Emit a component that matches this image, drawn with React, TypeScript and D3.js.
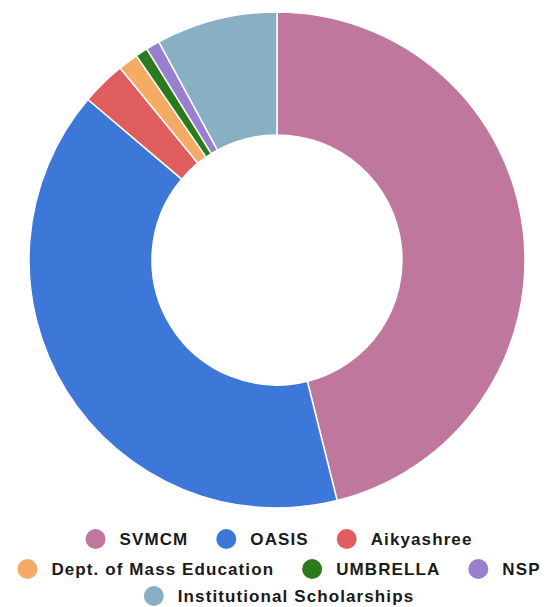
import * as d3 from "d3";
import { useMemo } from "react";

const WIDTH = 560;
const HEIGHT = 607;

const categories = [
  "SVMCM",
  "OASIS",
  "Aikyashree",
  "Dept. of Mass Education",
  "UMBRELLA",
  "NSP",
  "Institutional Scholarships",
];
const shares = [46.1, 40.1, 2.9, 1.3, 0.8, 0.9, 7.9];
const colors = [
  "#c0779e",
  "#3d78d8",
  "#e05d5d",
  "#f3ab66",
  "#2b7a1b",
  "#9a7fd1",
  "#89afc4",
];
// which legend row each category sits on
const legendRows = [
  [0, 1, 2],
  [3, 4, 5],
  [6],
];

const CENTER = { x: 277, y: 260 };
const OUTER = 248;
const INNER = 125;

const FONT_SIZE = 17;
const LETTER_SPACING = 1.1;
const FONT = `bold ${FONT_SIZE}px "Liberation Sans", Arial, sans-serif`;
const DOT_R = 10;
const TEXT_OFFSET = 24;
const ITEM_GAP = 28;
const LEGEND_CX = 279;
const ROW_Y = [539, 569, 596];

const measure = (() => {
  let ctx: CanvasRenderingContext2D | null = null;
  return (s: string) => {
    if (!ctx) ctx = document.createElement("canvas").getContext("2d");
    if (!ctx) return s.length * FONT_SIZE * 0.6;
    ctx.font = FONT;
    return ctx.measureText(s).width + s.length * LETTER_SPACING;
  };
})();

export default function App() {
  const arcs = useMemo(
    () =>
      d3
        .pie<number>()
        .sort(null)
        .value((d) => d)(shares),
    []
  );
  const arcGen = d3
    .arc<d3.PieArcDatum<number>>()
    .innerRadius(INNER)
    .outerRadius(OUTER);

  const legend = legendRows.flatMap((row, r) => {
    const widths = row.map((i) => DOT_R * 2 + (TEXT_OFFSET - DOT_R) + measure(categories[i]));
    const total = d3.sum(widths) + ITEM_GAP * (row.length - 1);
    let x = LEGEND_CX - total / 2;
    return row.map((i, k) => {
      const item = { i, x, y: ROW_Y[r] };
      x += widths[k] + ITEM_GAP;
      return item;
    });
  });

  return (
    <svg
      width={WIDTH}
      height={HEIGHT}
      style={{ position: "absolute", left: 0, top: 0, background: "#fff" }}
    >
      <g transform={`translate(${CENTER.x}, ${CENTER.y})`}>
        {arcs.map((a, i) => (
          <path
            key={categories[i]}
            d={arcGen(a) ?? undefined}
            fill={colors[i]}
            stroke="#fff"
            strokeWidth={1.5}
          />
        ))}
      </g>

      {legend.map(({ i, x, y }) => (
        <g key={categories[i]} transform={`translate(${x}, ${y})`}>
          <circle cx={DOT_R} cy={0} r={DOT_R} fill={colors[i]} />
          <text
            x={TEXT_OFFSET + DOT_R}
            y={0}
            dy="0.34em"
            style={{ font: FONT, letterSpacing: `${LETTER_SPACING}px` }}
            fill="#1a1a1a"
          >
            {categories[i]}
          </text>
        </g>
      ))}
    </svg>
  );
}
